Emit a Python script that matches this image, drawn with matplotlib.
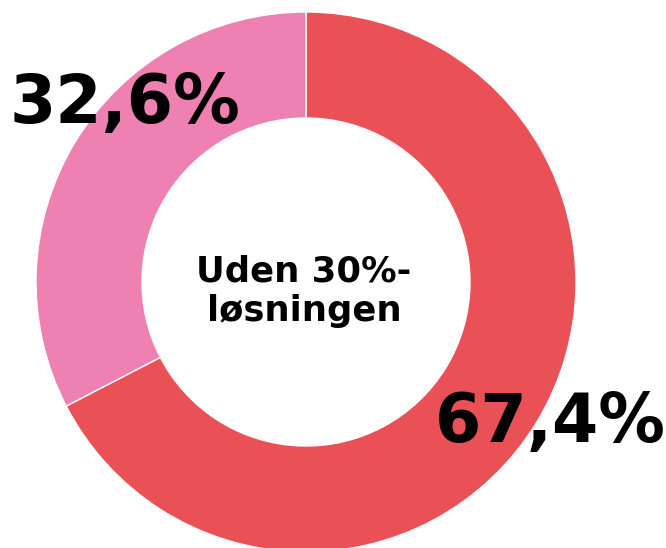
import matplotlib
matplotlib.use('Agg')
import matplotlib.pyplot as plt

# data
shares = [67.4, 32.6]
labels = ["67,4%", "32,6%"]
colors = ['#E95156', '#EE80B2']
center_lines = ["Uden 30%-", "løsningen"]

W, H = 666, 548
fig = plt.figure(figsize=(W / 100, H / 100), dpi=100)
ax = fig.add_axes([0, 0, 1, 1])

cx, cy = 306, H - 282
r_out, r_in = 270, 164

ax.pie(shares, colors=colors, startangle=90, counterclock=False,
       center=(cx, cy), radius=r_out, frame=True,
       wedgeprops=dict(width=r_out - r_in, edgecolor='white', linewidth=1))
ax.set_xlim(0, W)
ax.set_ylim(0, H)
ax.set_aspect('equal')
ax.axis('off')

font = dict(family='DejaVu Sans', weight='bold', color='black')
ax.text(550, H - 442, labels[0], fontsize=48, ha='center', va='baseline', **font)
ax.text(125, H - 123, labels[1], fontsize=48, ha='center', va='baseline', **font)
for line, base in zip(center_lines, [282, 321]):
    ax.text(304, H - base, line, fontsize=25.5, ha='center', va='baseline', **font)

fig.savefig('out.png', dpi=100)
